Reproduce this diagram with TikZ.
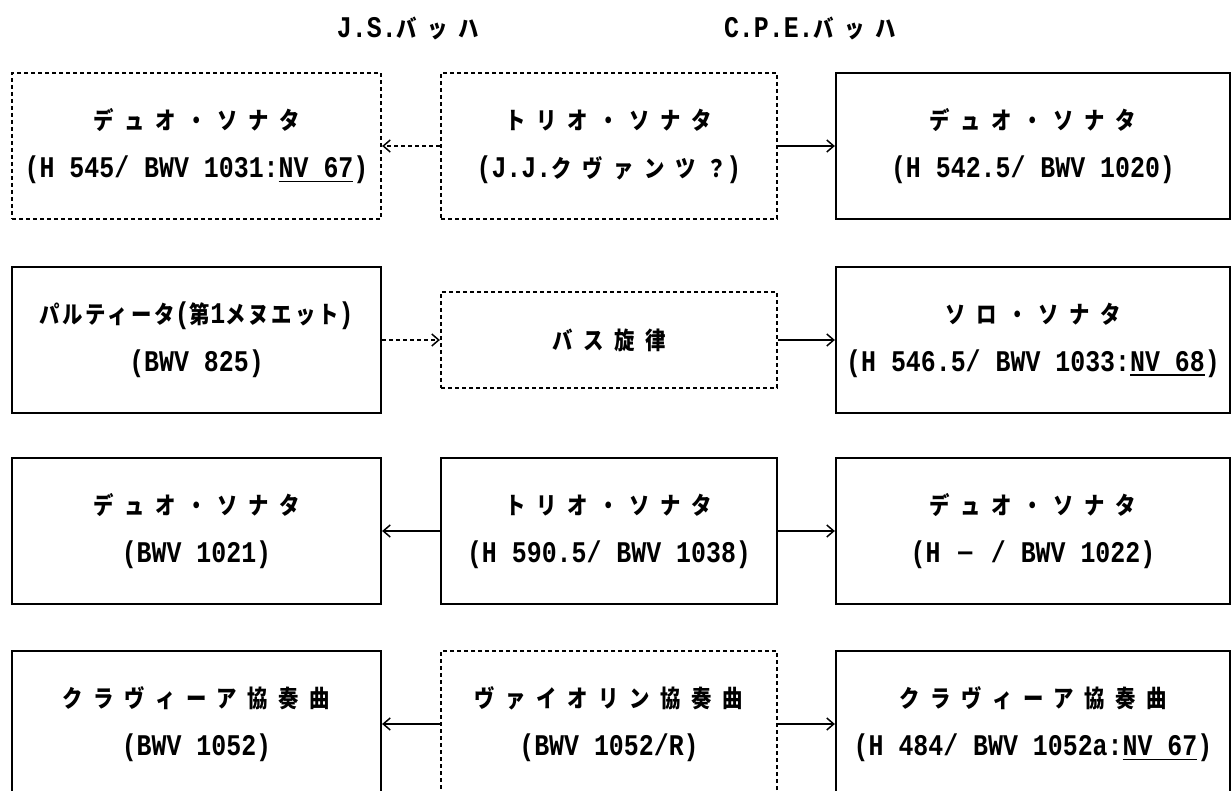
\documentclass[tikz,border=0pt]{standalone}
\usepackage{fontspec}
\usetikzlibrary{arrows.meta}
\newfontfamily\jpf{Noto Sans CJK JP}[LetterSpace=44,FakeStretch=0.85]
\newfontfamily\jpm{Noto Sans CJK JP}[LetterSpace=12,FakeStretch=0.85]
\newfontfamily\latf{Liberation Mono}[FakeStretch=0.83]
\newcommand\jtxt[1]{{\jpf\bfseries\fontsize{24pt}{48pt}\selectfont #1}}
\newcommand\jntxt[1]{{\jpm\bfseries\fontsize{24pt}{48pt}\selectfont #1}}
\newcommand\ltxt[1]{{\latf\bfseries\fontsize{30pt}{48pt}\selectfont #1}}
\newcommand\myul[1]{\setbox0\hbox{#1}\rlap{\rule[-5pt]{\wd0}{1.8pt}}\box0}
\tikzset{
  box/.style={rectangle, inner sep=0pt, line width=2.2pt, align=center,
    font=\fontsize{24pt}{48pt}\selectfont},
  solidbox/.style={box, draw},
  dashbox/.style={box, draw, dash pattern=on 4pt off 3pt},
  lw/.style={minimum width=369pt},
  mw/.style={minimum width=336pt},
  rw/.style={minimum width=394pt},
  bh/.style={minimum height=146pt},
  conn/.style={line width=1.5pt, -{Straight Barb[length=7pt,width=12pt]}},
  dconn/.style={conn, dash pattern=on 4pt off 3pt},
  head/.style={inner sep=0pt}
}
\begin{document}
\begin{tikzpicture}[x=1pt,y=-1pt]
\useasboundingbox (0,0) rectangle (1232,791);
\clip (0,0) rectangle (1232,791);
% headers
\node[head] (hjs) at (408,28) {\ltxt{J.S.}\jtxt{バッハ}};
\node[head] (hcpe) at (810,28) {\ltxt{C.P.E.}\jtxt{バッハ}};
% row 1
\node[dashbox,lw,bh] (l1) at (196.5,146) {\jtxt{デュオ・ソナタ}\\\ltxt{(H 545/ BWV 1031:\myul{NV 67})}};
\node[dashbox,mw,bh] (m1) at (609,146) {\jtxt{トリオ・ソナタ}\\\ltxt{(J.J.}\jtxt{クヴァンツ？}\ltxt{)}};
\node[solidbox,rw,bh] (r1) at (1033,146) {\jtxt{デュオ・ソナタ}\\\ltxt{(H 542.5/ BWV 1020)}};
% row 2
\node[solidbox,lw,bh] (l2) at (196.5,340) {\jntxt{パルティータ}\ltxt{(}\jntxt{第}\ltxt{1}\jntxt{メヌエット}\ltxt{)}\\\ltxt{(BWV 825)}};
\node[dashbox,mw,minimum height=96pt] (m2) at (609,340) {\jtxt{バス旋律}};
\node[solidbox,rw,bh] (r2) at (1033,340) {\jtxt{ソロ・ソナタ}\\\ltxt{(H 546.5/ BWV 1033:\myul{NV 68})}};
% row 3
\node[solidbox,lw,bh] (l3) at (196.5,531) {\jtxt{デュオ・ソナタ}\\\ltxt{(BWV 1021)}};
\node[solidbox,mw,bh] (m3) at (609,531) {\jtxt{トリオ・ソナタ}\\\ltxt{(H 590.5/ BWV 1038)}};
\node[solidbox,rw,bh] (r3) at (1033,531) {\jtxt{デュオ・ソナタ}\\\ltxt{(H }\jntxt{－}\ltxt{ / BWV 1022)}};
% row 4
\node[solidbox,lw,bh] (l4) at (196.5,724) {\jtxt{クラヴィーア協奏曲}\\\ltxt{(BWV 1052)}};
\node[dashbox,mw,bh] (m4) at (609,724) {\jtxt{ヴァイオリン協奏曲}\\\ltxt{(BWV 1052/R)}};
\node[solidbox,rw,bh] (r4) at (1033,724) {\jtxt{クラヴィーア協奏曲}\\\ltxt{(H 484/ BWV 1052a:\myul{NV 67})}};
% connectors
\draw[dconn] (m1.west) -- (l1.east);
\draw[conn] (m1.east) -- (r1.west);
\draw[dconn] (l2.east) -- (m2.west);
\draw[conn] (m2.east) -- (r2.west);
\draw[conn] (m3.west) -- (l3.east);
\draw[conn] (m3.east) -- (r3.west);
\draw[conn] (m4.west) -- (l4.east);
\draw[conn] (m4.east) -- (r4.west);
\end{tikzpicture}
\end{document}
